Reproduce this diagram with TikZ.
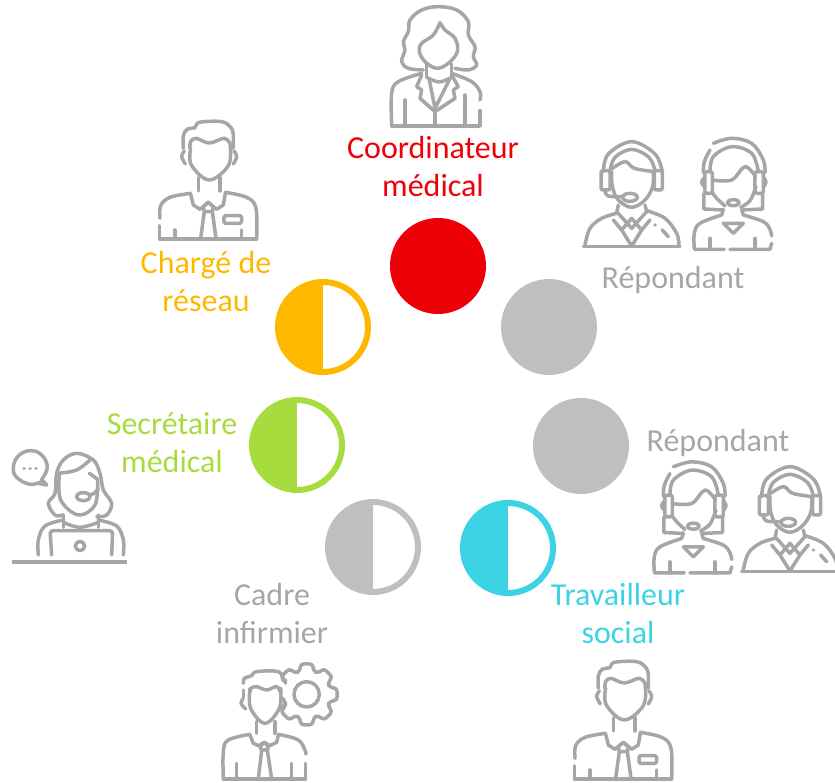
\documentclass[tikz,border=0pt]{standalone}
\usepackage{fontspec}
\setmainfont{Carlito}
\definecolor{icongray}{HTML}{A6A6A6}
\definecolor{txtgray}{HTML}{A6A6A6}
\definecolor{discgray}{HTML}{BFBFBF}
\definecolor{myred}{HTML}{EE0008}
\definecolor{myorange}{HTML}{FFB800}
\definecolor{mygreen}{HTML}{A6DC3E}
\definecolor{mycyan}{HTML}{3CD3E4}
\tikzset{
  iconline/.style={draw=icongray,line width=3.5pt,line cap=round,line join=round,x=0.3333pt,y=-0.3333pt},
  sm/.style={smooth,tension=.6},
  disc/.style={circle,fill=#1,minimum size=96pt,inner sep=0pt},
  halfdisc/.style={circle,draw=#1,line width=6pt,minimum size=90pt,inner sep=0pt,
    path picture={\fill[#1] (path picture bounding box.north west) rectangle (path picture bounding box.south);}},
  lab/.style={text=#1,font=\fontsize{32}{38}\selectfont,align=center,inner sep=0pt},
  pics/man/.style={code={
    \begin{scope}[iconline]
      \draw plot[sm] coordinates {(100,100)(100,62)(113,42)(135,38)(148,22)(215,20)(243,38)(250,60)(250,100)};
      \draw plot[sm] coordinates {(120,100)(122,80)(138,70)(178,84)(222,70)(240,85)};
      \draw plot[sm] coordinates {(122,100)(124,150)(178,195)(236,150)(240,85)};
      \draw plot[sm] coordinates {(103,108)(95,125)(106,147)};
      \draw plot[sm] coordinates {(252,108)(260,125)(250,147)};
      \draw (145,188)--(145,228) (210,188)--(210,228);
      \draw plot[sm] coordinates {(30,310)(32,272)(60,247)(122,235)};
      \draw plot[sm] coordinates {(225,232)(290,247)(318,280)(320,372)};
      \draw (28,332)--(28,372)--(320,372);
      \draw (122,238)--(130,270)--(150,283)--(175,262)--(200,283)--(220,270)--(226,235);
      \draw (163,290)--(160,275)--(175,262)--(190,275)--(187,290)--cycle;
      \draw (163,290)--(152,370) (187,290)--(198,370);
      \draw (75,345)--(75,372) (275,345)--(275,372);
      \draw[rounded corners=1.5pt] (222,302) rectangle (275,325);
    \end{scope}}},
  pics/doctor/.style={code={
    \begin{scope}[iconline]
      \draw plot[sm] coordinates {(130,210)(85,205)(65,185)(75,150)(70,125)(85,95)(90,60)(125,30)(175,20)(230,30)(265,65)(265,105)(285,140)(280,170)(290,195)(265,210)(225,205)};
      \draw plot[sm] coordinates {(180,68)(160,105)(125,130)(118,155)(135,185)(170,205)(205,190)(232,155)(225,115)(195,90)(180,68)};
      \draw (140,192)--(140,232) (215,192)--(215,232);
      \draw plot[sm] coordinates {(35,375)(35,280)(55,245)(125,220)};
      \draw plot[sm] coordinates {(215,220)(275,245)(300,275)(300,300)};
      \draw (300,332)--(300,378)--(35,378);
      \draw (125,225)--(110,260)--(125,270)--(120,295)--(165,335)--(225,295)--(220,270)--(235,260)--(215,225);
      \draw (148,240)--(165,325)--(208,240);
      \draw plot[sm] coordinates {(140,232)(178,246)(215,232)};
      \draw (165,335)--(165,378);
      \draw (75,300)--(75,378) (255,285)--(255,378);
    \end{scope}}},
  pics/headman/.style={code={
    \begin{scope}[iconline]
      \draw plot[sm] coordinates {(85,125)(100,72)(170,35)(240,72)(262,125)};
      \draw plot[sm] coordinates {(105,122)(120,82)(170,58)(222,82)(240,122)};
      \draw[rounded corners=2pt] (78,122) rectangle (105,180);
      \draw[rounded corners=2pt] (238,122) rectangle (262,180);
      \draw plot[sm] coordinates {(108,118)(150,95)(178,115)(238,125)};
      \draw plot[sm] coordinates {(110,125)(112,170)(130,210)(170,232)(210,210)(233,170)(235,125)};
      \draw plot[sm] coordinates {(90,182)(100,198)(142,200)};
      \draw (165,202) ellipse [x radius=22,y radius=12];
      \draw (130,225)--(125,250) (210,225)--(215,245);
      \draw plot[sm] coordinates {(30,345)(45,295)(80,265)(125,250)};
      \draw plot[sm] coordinates {(215,242)(270,265)(305,310)(312,345)};
      \draw (25,350)--(315,350);
      \draw (125,245)--(170,295)--(215,245);
      \draw (115,270)--(140,300)--(170,265)--(200,300)--(225,270);
      \draw (140,300)--(170,348)--(200,300);
      \draw (240,285)--(240.5,285) (262,300)--(280,320);
    \end{scope}}},
  pics/headwoman/.style={code={
    \begin{scope}[iconline]
      \draw plot[sm] coordinates {(415,40)(470,25)(530,40)(565,90)(570,128)};
      \draw plot[sm] coordinates {(405,60)(388,95)(385,128)};
      \draw plot[sm] coordinates {(405,125)(415,80)(470,50)(530,70)(550,125)};
      \draw[rounded corners=2pt] (390,125) rectangle (412,190);
      \draw[rounded corners=2pt] (540,125) rectangle (565,190);
      \draw plot[sm] coordinates {(390,140)(380,157)(390,172)};
      \draw plot[sm] coordinates {(565,140)(573,157)(565,172)};
      \draw plot[sm] coordinates {(412,150)(470,150)(510,110)(542,140)};
      \draw plot[sm] coordinates {(414,190)(425,205)(450,228)};
      \draw plot[sm] coordinates {(543,170)(525,212)(497,232)};
      \draw (475,218) ellipse [x radius=18,y radius=9];
      \draw (387,190)--(387,237)--(445,240) (563,190)--(563,237)--(500,240);
      \draw (445,238)--(440,255) (500,238)--(505,255);
      \draw (445,280)--(475,310)--(505,280)--cycle;
      \draw plot[sm] coordinates {(358,355)(358,310)(375,280)(440,255)};
      \draw plot[sm] coordinates {(505,255)(565,275)(585,298)(590,318)};
      \draw (590,340)--(585,358)--(465,358) (448,358)--(358,358);
      \draw (405,325)--(405,358) (540,325)--(540,358);
    \end{scope}}},
  pics/secretary/.style={code={
    \begin{scope}[iconline]
      \draw plot[smooth,tension=.7] coordinates {(125,125)(90,133)(50,112)(40,82)(55,48)(90,32)(125,45)(142,82)(125,118)};
      \draw (125,118)--(140,135)--(115,130);
      \draw (72,85)--(72.5,85) (90,85)--(90.5,85) (108,85)--(108.5,85);
      \draw plot[sm] coordinates {(190,225)(165,225)(145,190)(165,160)(170,100)(190,60)(230,40)(280,60)(300,100)(310,150)(335,190)(320,225)(290,230)};
      \draw plot[sm] coordinates {(170,100)(230,90)(275,55)};
      \draw plot[sm] coordinates {(178,105)(182,180)(235,225)(285,195)(293,120)};
      \draw plot[sm] coordinates {(268,100)(282,110)(293,118)};
      \draw (250,170) ellipse [x radius=20,y radius=12];
      \draw plot[sm] coordinates {(270,165)(285,158)(295,145)};
      \draw (190,225)--(190,262) (295,225)--(295,262);
      \draw plot[sm] coordinates {(190,247)(240,262)(295,247)};
      \draw[rounded corners=3pt] (155,345)--(150,272)--(338,272)--(335,345);
      \draw plot[sm] coordinates {(115,345)(115,300)(135,258)(190,240)};
      \draw plot[sm] coordinates {(295,240)(350,258)(370,300)(370,345)};
      \draw (240,318) circle [radius=14];
      \draw[line width=3.5pt,line cap=butt] (35,366)--(380,366);
    \end{scope}}},
  pics/cadre/.style={code={
    \begin{scope}[iconline]
      \draw plot[sm] coordinates {(85,85)(88,70)(110,62)(125,50)(190,50)(205,75)};
      \draw (85,105)--(85,125);
      \draw plot[sm] coordinates {(105,112)(108,100)(125,95)(155,105)(185,95)(198,115)};
      \draw plot[sm] coordinates {(105,100)(107,160)(150,205)(193,160)(197,100)};
      \draw plot[sm] coordinates {(85,130)(78,145)(92,162)};
      \draw plot[sm] coordinates {(203,130)(210,145)(197,162)};
      \draw (125,200)--(125,235) (180,200)--(180,235);
      \draw (105,240)--(115,265)--(130,272)--(148,262)--(165,272)--(185,262)--(190,240);
      \draw (140,285)--(135,275)--(148,262)--(160,275)--(157,285)--cycle;
      \draw (140,285)--(130,372) (157,285)--(170,372);
      \draw plot[sm] coordinates {(25,372)(25,290)(40,255)(105,238)};
      \draw plot[sm] coordinates {(190,238)(250,255)(272,290)(272,297)};
      \draw (272,325)--(272,372)--(25,372);
      \draw (65,325)--(65,372) (230,325)--(230,372);
      \begin{scope}[shift={(275,118)}]
        \draw[rounded corners=3pt] (-152:72)
          \foreach \a in {-135,-90,-45,0,45,90,135}
            { -- (\a-17:72) -- (\a-11:93) -- (\a+11:93) -- (\a+17:72) }
          -- (152:72);
        \draw (0,0) circle [radius=38];
      \end{scope}
    \end{scope}}}
}
\begin{document}
\begin{tikzpicture}[x=1pt,y=-1pt]
\useasboundingbox (0,0) rectangle (835,783);
\pic (iconcoord) at (380,0) {doctor};
\pic (iconrep1a) at (575,130) {headman};
\pic (iconrep1b) at (575,130) {headwoman};
\pic (iconcharge) at (150,115) {man};
\pic (iconsec) at (0,440) {secretary};
\pic (iconrep2a) at (535,453.5) {headwoman};
\pic (iconrep2b) at (733.3,455) {headman};
\pic (iconcadre) at (215,655) {cadre};
\pic (icontrav) at (565,655) {man};
\node[disc=myred] (c1) at (438,266) {};
\node[disc=discgray] (c2) at (549,327) {};
\node[disc=discgray] (c3) at (581,446) {};
\node[halfdisc=mycyan] (c4) at (508,548) {};
\node[halfdisc=discgray] (c5) at (373,547) {};
\node[halfdisc=mygreen] (c6) at (297,445) {};
\node[halfdisc=myorange] (c7) at (323,327) {};
\node[lab=myred] (t1) at (433,167) {Coordinateur\\médical};
\node[lab=txtgray] (t2) at (673,280) {Répondant};
\node[lab=txtgray] (t3) at (718,443) {Répondant};
\node[lab=mycyan] (t4) at (618,614) {Travailleur\\social};
\node[lab=txtgray] (t5) at (272,613) {Cadre\\infirmier};
\node[lab=mygreen] (t6) at (172,443) {Secrétaire\\médical};
\node[lab=myorange] (t7) at (206,282) {Chargé de\\réseau};
\end{tikzpicture}
\end{document}
